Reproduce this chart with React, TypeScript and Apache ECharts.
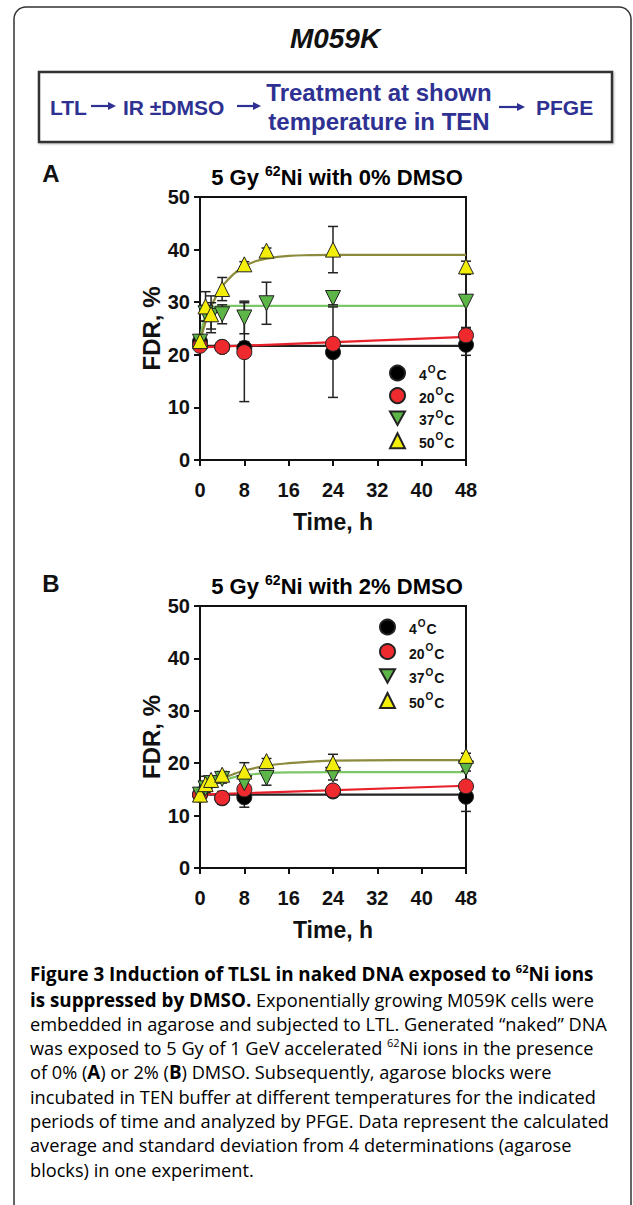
import React, { useEffect, useRef } from "react";
import * as echarts from "echarts";

// ---------- DATA ----------
const tempNames = ["4°C", "20°C", "37°C", "50°C"];
const xTicks = [0, 8, 16, 24, 32, 40, 48];

// Panel A: 0% DMSO  [time, FDR %, SD]
const tShort = [0, 4, 8, 24, 48];
const tLong = [0, 1, 2, 4, 8, 12, 24, 48];

const A_4C_val = [22.5, 21.5, 21.3, 20.5, 21.9];
const A_4C_err = [0.5, 0.5, 1.2, 8.6, 2.0];
const A_20C_val = [21.7, 21.5, 20.5, 22.1, 23.7];
const A_20C_err = [0.5, 0.6, 9.4, 1.0, 1.5];
const A_37C_val = [22.5, 27.9, 27.4, 27.7, 27.1, 29.8, 30.8, 30.1];
const A_37C_err = [0.5, 1.5, 2.5, 1.8, 3.1, 4.0, 1.3, 5.2];
const A_50C_val = [22.6, 29.2, 27.7, 32.5, 37.2, 39.8, 40.0, 36.8];
const A_50C_err = [0.5, 2.8, 3.5, 2.2, 0.5, 0.5, 4.4, 1.0];

// fitted curves
const A_fit4 = [[0, 21.7], [48, 21.7]];
const A_fit20 = [[0, 21.4], [48, 23.4]];
const A_fit37 = [[0, 22.5], [0.5, 25.8], [1, 27.6], [1.5, 28.5], [2, 28.9], [3, 29.2], [4, 29.3], [48, 29.3]];
const A_fit50 = [[0, 22.5], [1, 26.2], [2, 29.1], [3, 31.3], [4, 33.0], [6, 35.3], [8, 36.8], [10, 37.8], [12, 38.3], [16, 38.8], [20, 38.95], [24, 39.0], [48, 39.0]];

// Panel B: 2% DMSO
const B_4C_val = [14.0, 13.3, 13.5, 14.6, 13.6];
const B_4C_err = [0.5, 0.8, 1.9, 0.6, 2.8];
const B_20C_val = [14.0, 13.4, 15.0, 14.8, 15.6];
const B_20C_err = [0.5, 1.2, 1.0, 0.6, 0.8];
const B_37C_val = [14.0, 15.2, 16.2, 17.0, 16.2, 17.2, 17.8, 19.0];
const B_37C_err = [0.5, 0.8, 0.8, 0.8, 1.5, 1.4, 1.0, 0.5];
const B_50C_val = [14.0, 16.0, 16.8, 17.8, 18.4, 20.4, 20.0, 21.4];
const B_50C_err = [0.5, 1.5, 0.8, 0.6, 1.7, 0.5, 1.7, 0.5];

const B_fit4 = [[0, 14.0], [48, 14.0]];
const B_fit20 = [[0, 14.0], [48, 15.7]];
const B_fit37 = [[0, 14.0], [2, 15.6], [4, 16.6], [6, 17.3], [8, 17.7], [12, 18.1], [16, 18.25], [24, 18.3], [48, 18.3]];
const B_fit50 = [[0, 14.0], [2, 15.7], [4, 17.0], [6, 17.9], [8, 18.6], [12, 19.5], [16, 20.0], [20, 20.3], [24, 20.5], [36, 20.6], [48, 20.6]];

// ---------- STYLE ----------
const SANS = '"Liberation Sans", Arial, Helvetica, sans-serif';
const CAP = '"Open Sans", "Noto Sans", sans-serif';
const NAVY = "#2e3192";
const markerFill = ["#000000", "#ee2a2e", "#5cb547", "#f2ee0a"];
const lineColor = ["#222222", "#e8202a", "#7cc66a", "#8c8a3c"];
const DOWN_TRI = "path://M0,0L10,0L5,9Z";
const symbols = ["circle", "circle", DOWN_TRI, "triangle"];

function zip(t: number[], v: number[], e: number[]) {
  return t.map((x, i) => [x, v[i], e[i]]);
}

const supRich = {
  n: { fontFamily: SANS, fontWeight: "bold", fontSize: 14, color: "#111", lineHeight: 18, verticalAlign: "bottom" },
  s: { fontFamily: SANS, fontWeight: "bold", fontSize: 10, color: "#111", lineHeight: 18, verticalAlign: "top", padding: [0, 1, 0, 1] },
};

function buildPanel(idx: number, sets: number[][][], fits: number[][][]) {
  const series: any[] = [];
  fits.forEach((f, i) => {
    series.push({
      type: "line",
      name: "fit" + idx + "_" + i,
      xAxisIndex: idx,
      yAxisIndex: idx,
      data: f,
      smooth: 0.4,
      showSymbol: false,
      symbol: "none",
      lineStyle: { color: lineColor[i], width: 2.2 },
      z: 2,
    });
  });
  sets.forEach((d, i) => {
    series.push({
      type: "custom",
      name: "err" + idx + "_" + i,
      xAxisIndex: idx,
      yAxisIndex: idx,
      data: d,
      encode: { x: 0, y: 1 },
      z: 3,
      renderItem: (params: any, api: any) => {
        const x = api.value(0);
        const y = api.value(1);
        const e = api.value(2);
        const top = api.coord([x, y + e]);
        const bot = api.coord([x, y - e]);
        const w = 5;
        const st = { stroke: "#222", lineWidth: 1.5 };
        return {
          type: "group",
          children: [
            { type: "line", shape: { x1: top[0], y1: top[1], x2: bot[0], y2: bot[1] }, style: st },
            { type: "line", shape: { x1: top[0] - w, y1: top[1], x2: top[0] + w, y2: top[1] }, style: st },
            { type: "line", shape: { x1: bot[0] - w, y1: bot[1], x2: bot[0] + w, y2: bot[1] }, style: st },
          ],
        };
      },
    });
  });
  sets.forEach((d, i) => {
    series.push({
      type: "scatter",
      name: tempNames[i],
      xAxisIndex: idx,
      yAxisIndex: idx,
      data: d.map((p) => [p[0], p[1]]),
      symbol: symbols[i],
      symbolSize: 15,
      itemStyle: { color: markerFill[i], borderColor: "#222", borderWidth: 1, opacity: 1 },
      z: 4 + i,
    });
  });
  return series;
}

function axisPair(idx: number) {
  const x = {
    gridIndex: idx,
    type: "value",
    min: 0,
    max: 48,
    interval: 8,
    name: "Time, h",
    nameLocation: "middle",
    nameGap: 50,
    nameTextStyle: { fontFamily: SANS, fontWeight: "bold", fontSize: 23, color: "#111" },
    axisLine: { show: true, onZero: false, lineStyle: { color: "#111", width: 2 } },
    axisTick: { show: true, inside: false, length: 6, lineStyle: { color: "#111", width: 2 } },
    axisLabel: {
      fontFamily: SANS,
      fontWeight: "bold",
      fontSize: 20,
      color: "#111",
      margin: 20,
      formatter: (v: number) => (xTicks.indexOf(v) >= 0 ? String(v) : ""),
    },
    splitLine: { show: false },
  };
  const y = {
    gridIndex: idx,
    type: "value",
    min: 0,
    max: 50,
    interval: 10,
    name: "FDR, %",
    nameLocation: "middle",
    nameRotate: 90,
    nameGap: 25,
    nameTextStyle: { fontFamily: SANS, fontWeight: "bold", fontSize: 24, color: "#111" },
    axisLine: { show: true, onZero: false, lineStyle: { color: "#111", width: 2 } },
    axisTick: { show: true, inside: false, length: 6, lineStyle: { color: "#111", width: 2 } },
    axisLabel: { fontFamily: SANS, fontWeight: "bold", fontSize: 20, color: "#111", margin: 10 },
    splitLine: { show: false },
  };
  return { x, y };
}

function legend(left: number, top: number, gap: number) {
  return {
    data: tempNames,
    orient: "vertical",
    left,
    top,
    itemWidth: 15,
    itemHeight: 15,
    itemGap: gap,
    selectedMode: false,
    formatter: (name: string) => `{n|${name.replace("°C", "")}}{s|O}{n|C}`,
    textStyle: { rich: supRich, padding: [0, 0, 0, 9] },
  };
}

const captionRich = {
  b: { fontFamily: CAP, fontWeight: "bold", fontSize: 18.8, color: "#1a1a1a", lineHeight: 22 },
  bs: { fontFamily: CAP, fontWeight: "bold", fontSize: 11, color: "#1a1a1a", verticalAlign: "top", lineHeight: 22 },
  n: { fontFamily: CAP, fontSize: 18.2, color: "#3a3a3a", lineHeight: 22 },
  s: { fontFamily: CAP, fontSize: 11, color: "#3a3a3a", verticalAlign: "top", lineHeight: 22 },
};

const captionLines = [
  "{b|Figure 3 Induction of TLSL in naked DNA exposed to }{bs|62}{b|Ni ions}",
  "{b|is suppressed by DMSO.}{n| Exponentially growing M059K cells were}",
  "{n|embedded in agarose and subjected to LTL. Generated “naked” DNA}",
  "{n|was exposed to 5 Gy of 1 GeV accelerated }{s|62}{n|Ni ions in the presence}",
  "{n|of 0% (}{b|A}{n|) or 2% (}{b|B}{n|) DMSO. Subsequently, agarose blocks were}",
  "{n|incubated in TEN buffer at different temperatures for the indicated}",
  "{n|periods of time and analyzed by PFGE. Data represent the calculated}",
  "{n|average and standard deviation from 4 determinations (agarose}",
  "{n|blocks) in one experiment.}",
];
const captionY = [974, 999.5, 1023.8, 1048.1, 1072.4, 1096.7, 1121, 1145.3, 1169.6];

function arrow(x1: number, x2: number, y: number) {
  return [
    { type: "line", shape: { x1, y1: y, x2: x2 - 6, y2: y }, style: { stroke: NAVY, lineWidth: 2.2 } },
    { type: "polygon", shape: { points: [[x2 - 8, y - 4], [x2, y], [x2 - 8, y + 4]] }, style: { fill: NAVY } },
  ];
}

function panelTitle(y: number, pct: string) {
  return {
    type: "text",
    x: 337,
    y,
    style: {
      text: `{a|5 Gy }{s|62}{a|Ni with ${pct} DMSO}`,
      align: "center",
      verticalAlign: "middle",
      rich: {
        a: { fontFamily: SANS, fontWeight: "bold", fontSize: 22, color: "#111", lineHeight: 24, verticalAlign: "bottom" },
        s: { fontFamily: SANS, fontWeight: "bold", fontSize: 14, color: "#111", lineHeight: 24, verticalAlign: "top" },
      },
    },
  };
}

export default function App() {
  const ref = useRef<HTMLDivElement>(null);
  useEffect(() => {
    if (!ref.current) return;
    const chart = echarts.init(ref.current, null, { renderer: "svg" });
    const aAx = axisPair(0);
    const bAx = axisPair(1);
    const setsA = [zip(tShort, A_4C_val, A_4C_err), zip(tShort, A_20C_val, A_20C_err), zip(tLong, A_37C_val, A_37C_err), zip(tLong, A_50C_val, A_50C_err)];
    const setsB = [zip(tShort, B_4C_val, B_4C_err), zip(tShort, B_20C_val, B_20C_err), zip(tLong, B_37C_val, B_37C_err), zip(tLong, B_50C_val, B_50C_err)];
    const option: any = {
      animation: false,
      backgroundColor: "#ffffff",
      grid: [
        { left: 200, top: 197, width: 266, height: 263, show: true, borderColor: "#111", borderWidth: 2, backgroundColor: "transparent" },
        { left: 200, top: 606, width: 266, height: 262, show: true, borderColor: "#111", borderWidth: 2, backgroundColor: "transparent" },
      ],
      xAxis: [aAx.x, bAx.x],
      yAxis: [aAx.y, bAx.y],
      legend: [legend(384, 359, 4.6), legend(374, 613, 6.5)],
      series: [...buildPanel(0, setsA, [A_fit4, A_fit20, A_fit37, A_fit50]), ...buildPanel(1, setsB, [B_fit4, B_fit20, B_fit37, B_fit50])],
      graphic: [
        { type: "rect", shape: { x: 14, y: 7, width: 617, height: 1260, r: 12 }, style: { fill: "none", stroke: "#333", lineWidth: 1.5 }, z: 0 },
        { type: "text", x: 335, y: 38, style: { text: "M059K", align: "center", verticalAlign: "middle", font: `italic bold 28px ${SANS}`, fill: "#111" } },
        { type: "rect", shape: { x: 39, y: 72, width: 573, height: 70 }, style: { fill: "#fff", stroke: "#333", lineWidth: 2.5, shadowColor: "rgba(0,0,0,0.25)", shadowOffsetX: 1, shadowOffsetY: 1, shadowBlur: 2 } },
        { type: "text", x: 50, y: 107, style: { text: "LTL", verticalAlign: "middle", font: `bold 21px ${SANS}`, fill: NAVY } },
        ...arrow(91, 116, 106),
        { type: "text", x: 123, y: 107, style: { text: "IR ±DMSO", verticalAlign: "middle", font: `bold 21px ${SANS}`, fill: NAVY } },
        ...arrow(237, 261, 106),
        { type: "text", x: 379, y: 92, style: { text: "Treatment at shown", align: "center", verticalAlign: "middle", font: `bold 24px ${SANS}`, fill: NAVY } },
        { type: "text", x: 379, y: 121, style: { text: "temperature in TEN", align: "center", verticalAlign: "middle", font: `bold 24px ${SANS}`, fill: NAVY } },
        ...arrow(499, 525, 107),
        { type: "text", x: 536, y: 107, style: { text: "PFGE", verticalAlign: "middle", font: `bold 21px ${SANS}`, fill: NAVY } },
        { type: "text", x: 51, y: 173, style: { text: "A", align: "center", verticalAlign: "middle", font: `bold 24px ${SANS}`, fill: "#111" } },
        { type: "text", x: 51, y: 583, style: { text: "B", align: "center", verticalAlign: "middle", font: `bold 24px ${SANS}`, fill: "#111" } },
        panelTitle(176, "0%"),
        panelTitle(585, "2%"),
        ...captionLines.map((t, i) => ({
          type: "text",
          x: 30,
          y: captionY[i],
          style: { text: t, verticalAlign: "middle", rich: captionRich },
        })),
      ],
    };
    chart.setOption(option);
    return () => chart.dispose();
  }, []);
  return <div ref={ref} style={{ position: "absolute", left: 0, top: 0, width: 633, height: 1205 }} />;
}
